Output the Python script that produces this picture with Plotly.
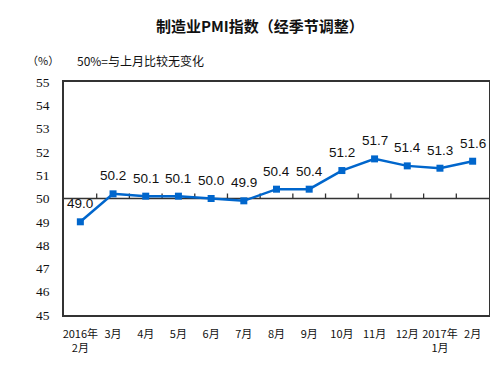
import plotly.graph_objects as go

months = ["2016年<br>2月", "3月", "4月", "5月", "6月", "7月", "8月", "9月",
          "10月", "11月", "12月", "2017年<br>1月", "2月"]
pmi = [49.0, 50.2, 50.1, 50.1, 50.0, 49.9, 50.4, 50.4, 51.2, 51.7, 51.4, 51.3, 51.6]
y_ticks = [45, 46, 47, 48, 49, 50, 51, 52, 53, 54, 55]
baseline = 50
boundaries = [i + 0.5 for i in range(len(months) - 1)]

line_color = "#0066CC"
frame_color = "#333333"

fig = go.Figure()
fig.add_trace(go.Scatter(
    x=months, y=pmi, mode="lines+markers",
    line=dict(color=line_color, width=2.5),
    marker=dict(symbol="square", size=7, color=line_color),
    showlegend=False, hoverinfo="skip",
))

for m, v in zip(months, pmi):
    fig.add_annotation(x=m, y=v, text=f"{v:.1f}", showarrow=False, yshift=18,
                       font=dict(family="Liberation Sans, Arial", size=13.5, color="#111111"))

# category axis crossing at 50 with tick marks between categories
fig.add_hline(y=baseline, line=dict(color=frame_color, width=1.5), layer="below")
for b in boundaries:
    fig.add_shape(type="line", xref="x", yref="y", x0=b, x1=b,
                  ysizemode="pixel", yanchor=baseline, y0=0, y1=5,
                  line=dict(color=frame_color, width=1.3), layer="below")

fig.update_layout(
    width=490, height=359,
    margin=dict(l=56, r=7, t=74, b=52),
    paper_bgcolor="white", plot_bgcolor="white",
    title=dict(text="制造业PMI指数（经季节调整）", x=0.514, xanchor="center",
               y=0.948, yanchor="middle",
               font=dict(family="Noto Sans CJK SC", size=15, weight=600, color="#111111")),
    xaxis=dict(type="category", range=[-0.5, len(months) - 0.5],
               showline=True, mirror=True, linecolor=frame_color, linewidth=1.5,
               ticks="", showgrid=False, zeroline=False, ticklabelstandoff=8,
               tickfont=dict(family="Noto Sans CJK SC", size=11, color="#111111")),
    yaxis=dict(range=[45, 55], tickvals=y_ticks, showline=True, mirror=True,
               linecolor=frame_color, linewidth=1.5, ticks="", showgrid=False,
               zeroline=False, ticklabelstandoff=10,
               tickfont=dict(family="Liberation Serif", size=13.5, color="#111111")),
)

fig.add_annotation(xref="paper", yref="paper", x=-0.05, y=1.094, xanchor="center",
                   yanchor="middle", text="（%）", showarrow=False,
                   font=dict(family="Noto Sans CJK SC", size=11, color="#111111"))
fig.add_annotation(xref="paper", yref="paper", x=0.026, y=1.094, xanchor="left",
                   yanchor="middle", text="50%=与上月比较无变化", showarrow=False,
                   font=dict(family="Noto Sans CJK SC", size=12, color="#111111"))

fig.write_html("out.html")
